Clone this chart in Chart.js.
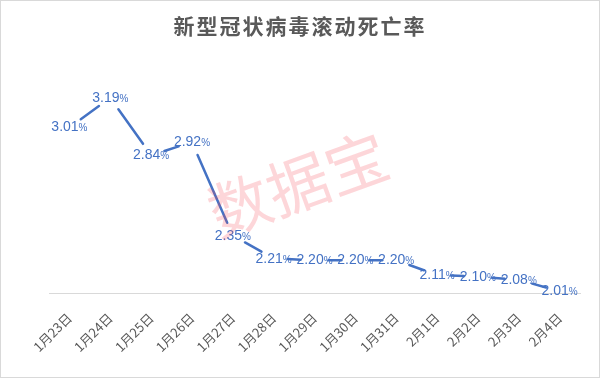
<!DOCTYPE html>
<html>
<head>
<meta charset="utf-8">
<script src="https://cdn.jsdelivr.net/npm/chart.js@4"></script>
<style>
  html, body { margin: 0; padding: 0; background: #fff; }
  canvas { display: block; }
</style>
</head>
<body>
<canvas id="rate" width="600" height="378"></canvas>
<script>
const dates = ["1月23日", "1月24日", "1月25日", "1月26日", "1月27日", "1月28日", "1月29日",
  "1月30日", "1月31日", "2月1日", "2月2日", "2月3日", "2月4日"];
const deathRate = [3.01, 3.19, 2.84, 2.92, 2.35, 2.21, 2.20, 2.20, 2.20, 2.11, 2.10, 2.08, 2.01];
const chartTitle = "新型冠状病毒滚动死亡率";
const watermark = "数据宝";

const blue = "#4472C4";
const gap = 14; // line stops short of each label

const pointLabels = {
  id: "pointLabels",
  beforeDraw(chart) {
    const ctx = chart.ctx;
    ctx.save();
    ctx.fillStyle = "#fff";
    ctx.fillRect(0, 0, 600, 378);
    ctx.strokeStyle = "#d9d9d9";
    ctx.lineWidth = 1;
    ctx.strokeRect(0.5, 0.5, 599, 377);
    ctx.restore();
  },
  afterDatasetsDraw(chart) {
    const ctx = chart.ctx;
    const pts = chart.getDatasetMeta(0).data;
    ctx.save();
    // segments between points, trimmed at both ends
    ctx.strokeStyle = blue;
    ctx.lineWidth = 2.5;
    ctx.lineCap = "round";
    for (let i = 0; i < pts.length - 1; i++) {
      const a = pts[i], b = pts[i + 1];
      const dx = b.x - a.x, dy = b.y - a.y;
      const len = Math.hypot(dx, dy);
      if (len <= gap * 2) continue;
      const ux = dx / len, uy = dy / len;
      ctx.beginPath();
      ctx.moveTo(a.x + ux * gap, a.y + uy * gap);
      ctx.lineTo(b.x - ux * gap, b.y - uy * gap);
      ctx.stroke();
    }
    // value labels centred on the points
    pts.forEach((pt, i) => {
      const num = deathRate[i].toFixed(2);
      ctx.font = "14px 'Liberation Sans', Arial, sans-serif";
      const w1 = ctx.measureText(num).width;
      ctx.font = "10px 'Liberation Sans', Arial, sans-serif";
      const w2 = ctx.measureText("%").width;
      const left = pt.x - (w1 + w2) / 2;
      ctx.fillStyle = blue;
      ctx.textBaseline = "alphabetic";
      ctx.textAlign = "left";
      ctx.font = "14px 'Liberation Sans', Arial, sans-serif";
      ctx.fillText(num, left, pt.y + 4);
      ctx.font = "10px 'Liberation Sans', Arial, sans-serif";
      ctx.fillText("%", left + w1, pt.y + 4);
    });
    ctx.restore();
  },
  afterDraw(chart) {
    const ctx = chart.ctx;
    ctx.save();
    // title
    ctx.fillStyle = "#595959";
    ctx.font = "bold 21px 'Noto Sans CJK SC', sans-serif";
    ctx.textAlign = "center";
    ctx.textBaseline = "middle";
    ctx.letterSpacing = "2px";
    ctx.fillText(chartTitle, 300, 26);
    ctx.letterSpacing = "0px";
    // watermark
    ctx.translate(298, 184);
    ctx.rotate(-20 * Math.PI / 180);
    ctx.font = "62px 'Noto Sans CJK SC', sans-serif";
    ctx.fillStyle = "rgba(245, 70, 80, 0.22)";
    ctx.fillText(watermark, 0, 0);
    ctx.restore();
  }
};

new Chart(document.getElementById("rate"), {
  type: "line",
  data: {
    labels: dates,
    datasets: [{
      data: deathRate,
      borderColor: blue,
      borderWidth: 0,
      showLine: false,
      pointRadius: 0,
      tension: 0
    }]
  },
  options: {
    responsive: false,
    animation: false,
    layout: { padding: { top: 47, left: 49, right: 20, bottom: 0 } },
    plugins: {
      legend: { display: false },
      tooltip: { enabled: false },
      title: { display: false }
    },
    scales: {
      y: { display: false, min: 2.0, max: 3.5 },
      x: {
        offset: true,
        grid: { display: false },
        border: { display: true, color: "#d9d9d9", width: 1 },
        ticks: {
          color: "#595959",
          font: { size: 13, family: "'Noto Sans CJK SC', sans-serif" },
          minRotation: 45,
          maxRotation: 45,
          padding: 9,
          autoSkip: false
        },
        afterFit(axis) { axis.height = 85; }
      }
    }
  },
  plugins: [pointLabels]
});
</script>
</body>
</html>
